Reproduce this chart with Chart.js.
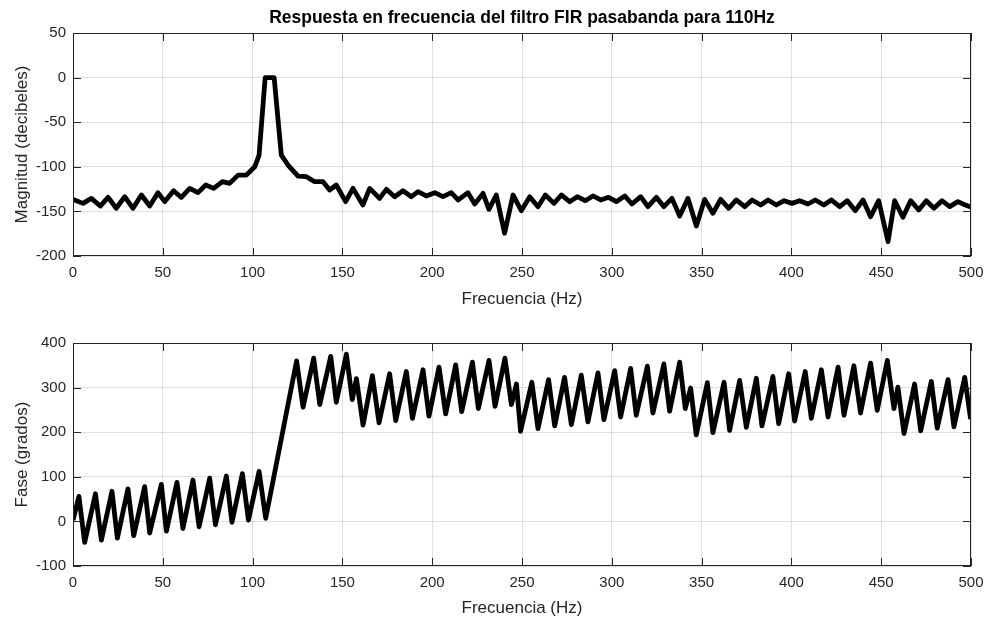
<!DOCTYPE html>
<html lang="es">
<head>
<meta charset="utf-8">
<title>Respuesta en frecuencia del filtro FIR pasabanda</title>
<script src="https://cdn.jsdelivr.net/npm/chart.js@4/dist/chart.umd.min.js"></script>
<style>
  html, body { margin: 0; padding: 0; background: #ffffff; }
  #wrap { position: relative; width: 986px; height: 619px; overflow: hidden; }
  canvas { position: absolute; left: 0; }
  #mag { top: 0; }
  #fase { top: 312px; }
</style>
</head>
<body>
<div id="wrap">
  <canvas id="mag" width="986" height="312"></canvas>
  <canvas id="fase" width="986" height="307"></canvas>
</div>
<script>
const TITLE = "Respuesta en frecuencia del filtro FIR pasabanda para 110Hz";
const X_LABEL = "Frecuencia (Hz)";
const MAG_LABEL = "Magnitud (decibeles)";
const PHASE_LABEL = "Fase (grados)";

const X_TICKS = [0, 50, 100, 150, 200, 250, 300, 350, 400, 450, 500];
const MAG_TICKS = [-200, -150, -100, -50, 0, 50];
const PHASE_TICKS = [-100, 0, 100, 200, 300, 400];

// Magnitude (dB)
const magFreq = [
  0, 5.6, 10.2, 15.2, 19.5, 24.1, 28.8, 33.4, 38.1, 42.7, 47.3, 51.1, 56, 60.3,
  65, 69.6, 73.9, 78.3, 83.2, 87.2, 91.9, 96.5, 101.2, 103.6, 107, 112, 116,
  119.7, 125.3, 130, 134.6, 139.2, 142.9, 146.6, 151.8, 155.9, 161.4, 165.2,
  170.7, 174.5, 179.1, 183.7, 188.4, 192.1, 196.7, 201.4, 206, 210.6, 214.4,
  219.9, 223.7, 228.3, 231.6, 235.7, 240.3, 245, 249.6, 254.3, 258.9, 263,
  267.8, 271.9, 276.5, 280.8, 285.2, 289.5, 293.8, 298.2, 302.5, 307.2, 311.2,
  316.1, 320.1, 324.8, 329, 333.5, 337.8, 342.4, 347.1, 351.7, 356.3, 360.6,
  365.1, 369.3, 374, 378.1, 382.9, 387, 391.6, 395.9, 400.3, 404.6, 409.2,
  413.3, 418.1, 422.2, 426.9, 431.1, 435.6, 439.9, 444.1, 448.6, 453.8, 457.5,
  462.1, 466.4, 470.9, 475.1, 479.4, 483.8, 488.1, 492.7, 496.8, 500,
];
const magDb = [
  -136.5, -141, -135.4, -144, -134.2, -146.5, -133.5, -146.5, -131.6, -144,
  -129, -139, -126.8, -134.2, -124.2, -129, -120.4, -124.2, -116.7, -118.6,
  -109.3, -109.3, -100, -86.9, 0, 0, -87, -98, -110.4, -111.1, -116.7, -116.7,
  -126, -120.4, -139.1, -124.2, -142.8, -124.2, -135.4, -125.3, -133.5, -126.8,
  -133.5, -127.9, -132.7, -129, -133.5, -129, -137.2, -129, -141.7, -129.8,
  -147.7, -131.6, -174.5, -131.6, -149.2, -133.5, -144.7, -131.6, -141, -131.6,
  -139.1, -133.5, -138, -132.7, -137.2, -134.2, -139.1, -132.7, -141.7, -133.5,
  -144.7, -134.2, -144.7, -135.4, -155.1, -135.4, -166.3, -136.5, -152.1,
  -136.5, -146.5, -137.2, -144.7, -137.2, -142.8, -137.2, -142.8, -138, -141,
  -138, -141.7, -137.2, -142.8, -137.2, -144.7, -138, -149.2, -137.2, -155.9,
  -138, -183.8, -138, -156.6, -138, -148.4, -138, -146.5, -138, -144.7, -139.1,
  -142.8, -145,
];

// Phase (degrees)
const phaseFreq = [
  0, 3.3, 6.5, 12.5, 15.8, 21.7, 24.7, 30.6, 33.8, 39.9, 42.7, 49.2, 52, 57.9,
  61.2, 66.8, 70.2, 76.1, 79.3, 85.4, 88.5, 94.3, 97.7, 103.6, 107.3, 124.5,
  128.1, 134, 137.4, 143.5, 146.6, 152.2, 155.5, 157.8, 161.5, 166.7, 170.4,
  176.3, 179.7, 185.6, 189, 194.9, 198.2, 203.8, 207.5, 213.1, 216.4, 222.4,
  225.7, 231.6, 235, 240.5, 244.1, 246.9, 249.2, 255.5, 258.9, 264.8, 268.2,
  273.7, 277.5, 283, 286.7, 292.3, 295.6, 301.6, 304.9, 310.5, 313.6, 319.8,
  322.9, 329, 332.2, 337.8, 340.9, 343.9, 347, 353.2, 356.3, 362.5, 365.6,
  371.2, 374.9, 380.5, 383.6, 389.7, 392.9, 398.5, 401.8, 407.7, 411.1, 416.7,
  420.4, 426, 429.3, 434.8, 438.5, 444.1, 447.8, 453.4, 457.1, 459.3, 462.7,
  468.6, 472, 477.9, 481.2, 487.2, 490.5, 496.5, 499.8,
];
const phaseDeg = [
  3, 56, -47, 62, -42, 67.5, -37.5, 73, -32, 78, -26, 83, -22, 87.6, -16, 92.8,
  -12, 97, -7.5, 101.7, -2, 107, 3, 112, 7, 360, 256, 366, 262, 370, 267, 375,
  273, 320, 216, 327, 221, 331, 226, 336, 231, 340, 236, 346, 241, 351, 246,
  357, 253, 361, 258, 366, 262, 308, 202, 312, 208, 318, 214, 323, 217, 328,
  223, 333, 228, 338, 234, 343, 238, 348, 243, 353, 247, 357, 253, 299, 194,
  311, 199, 312, 204, 316, 211, 321, 214, 325, 219, 331, 225, 336, 231, 340,
  234, 346, 238, 349, 243, 355, 249, 361, 253, 301, 197, 308, 203, 314, 209,
  318, 212, 323, 229,
];

const INK = "#262626";
const GRID = "rgba(38, 38, 38, 0.15)";
const FONT = "'Liberation Sans', Arial, Helvetica, sans-serif";

/** MATLAB-style box with inward tick marks on all four sides. */
const boxTicksPlugin = {
  id: "boxTicks",
  afterDraw(chart) {
    const { ctx, chartArea: a, scales } = chart;
    const len = 8;
    ctx.save();
    ctx.strokeStyle = INK;
    ctx.lineWidth = 1;
    ctx.beginPath();
    scales.x.ticks.forEach((t) => {
      const x = Math.round(scales.x.getPixelForValue(t.value)) + 0.5;
      ctx.moveTo(x, a.bottom);
      ctx.lineTo(x, a.bottom - len);
      ctx.moveTo(x, a.top);
      ctx.lineTo(x, a.top + len);
    });
    scales.y.ticks.forEach((t) => {
      const y = Math.round(scales.y.getPixelForValue(t.value)) + 0.5;
      ctx.moveTo(a.left, y);
      ctx.lineTo(a.left + len, y);
      ctx.moveTo(a.right, y);
      ctx.lineTo(a.right - len, y);
    });
    ctx.stroke();
    ctx.strokeRect(
      Math.round(a.left) + 0.5,
      Math.round(a.top) + 0.5,
      Math.round(a.right - a.left) - 1,
      Math.round(a.bottom - a.top) - 1
    );
    ctx.restore();
  },
};

function toPoints(xs, ys) {
  return xs.map((x, i) => ({ x, y: ys[i] }));
}

function fixedTicks(list) {
  return (scale) => {
    scale.ticks = list.map((value) => ({ value }));
  };
}

function makeChart(canvasId, opts) {
  return new Chart(document.getElementById(canvasId), {
    type: "line",
    data: {
      datasets: [
        {
          data: toPoints(opts.xs, opts.ys),
          borderColor: "#000000",
          borderWidth: 4.8,
          borderJoinStyle: "round",
          borderCapStyle: "butt",
          pointRadius: 0,
          tension: 0,
          fill: false,
        },
      ],
    },
    options: {
      responsive: false,
      animation: false,
      devicePixelRatio: 1,
      layout: { padding: { top: opts.padTop, right: 15, bottom: 0, left: 0 } },
      plugins: {
        legend: { display: false },
        tooltip: { enabled: false },
        title: {
          display: !!opts.title,
          text: opts.title || "",
          fullSize: false,
          color: "#000000",
          font: { family: FONT, size: 17.5, weight: "bold" },
          padding: { top: 8, bottom: 4 },
        },
      },
      scales: {
        x: {
          type: "linear",
          min: 0,
          max: 500,
          afterBuildTicks: fixedTicks(X_TICKS),
          afterFit(scale) {
            scale.height = opts.xAxisHeight;
            // the outer padding already leaves room for the end labels
            scale.paddingLeft = 0;
            scale.paddingRight = 0;
          },
          grid: { color: GRID, drawTicks: false, lineWidth: 1 },
          border: { display: false },
          ticks: {
            color: INK,
            font: { family: FONT, size: 15 },
            padding: 8,
            maxRotation: 0,
            autoSkip: false,
          },
          title: {
            display: true,
            text: X_LABEL,
            color: INK,
            font: { family: FONT, size: 17 },
            padding: { top: 0, bottom: opts.xTitlePad },
          },
        },
        y: {
          type: "linear",
          min: opts.yTicks[0],
          max: opts.yTicks[opts.yTicks.length - 1],
          afterBuildTicks: fixedTicks(opts.yTicks),
          afterFit(scale) {
            scale.width = 73;
          },
          grid: { color: GRID, drawTicks: false, lineWidth: 1 },
          border: { display: false },
          ticks: {
            color: INK,
            font: { family: FONT, size: 15 },
            padding: 7,
            autoSkip: false,
          },
          title: {
            display: true,
            text: opts.yLabel,
            color: INK,
            font: { family: FONT, size: 17 },
            padding: { top: 12, bottom: 0 },
          },
        },
      },
    },
    plugins: [boxTicksPlugin],
  });
}

makeChart("mag", {
  xs: magFreq,
  ys: magDb,
  yTicks: MAG_TICKS,
  yLabel: MAG_LABEL,
  title: TITLE,
  padTop: 0,
  xAxisHeight: 56,
  xTitlePad: 2,
});

makeChart("fase", {
  xs: phaseFreq,
  ys: phaseDeg,
  yTicks: PHASE_TICKS,
  yLabel: PHASE_LABEL,
  title: null,
  padTop: 31,
  xAxisHeight: 53,
  xTitlePad: 0,
});
</script>
</body>
</html>
